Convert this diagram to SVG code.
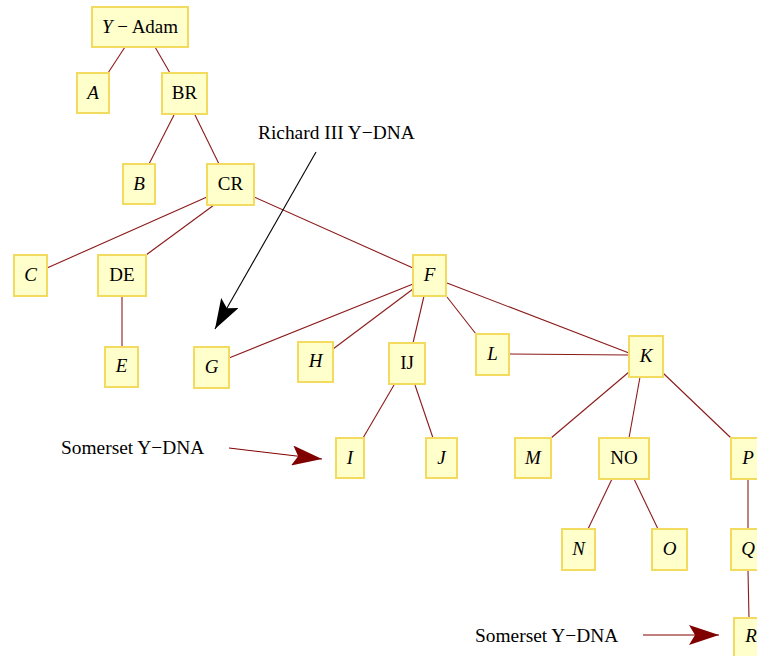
<svg xmlns="http://www.w3.org/2000/svg" width="757" height="656" viewBox="0 0 757 656">
<style>
.n rect{fill:#ffffcc;stroke:#f2db5e;stroke-width:2}
.n text{font-family:"Liberation Serif",serif;font-size:19px;text-anchor:middle;fill:#000}
.i{font-style:italic}
#edges line{stroke:#8b1a1a;stroke-width:1.1}
.lbl{font-family:"Liberation Serif",serif;font-size:19.4px;fill:#000}
</style>
<defs>
<marker id="ab" viewBox="0 0 30 20" refX="30" refY="10" markerWidth="30" markerHeight="20" markerUnits="userSpaceOnUse" orient="auto"><path d="M0,0 L30,10 L0,20 L6,10 Z" fill="#000"/></marker>
<marker id="ar" viewBox="0 0 30 20" refX="30" refY="10" markerWidth="30" markerHeight="20" markerUnits="userSpaceOnUse" orient="auto"><path d="M0,0 L30,10 L0,20 L6,10 Z" fill="#800000"/></marker>
</defs>
<rect width="757" height="656" fill="#fff"/>
<g id="edges">
<line x1="125" y1="47" x2="108" y2="73"/>
<line x1="155" y1="47" x2="170" y2="73"/>
<line x1="174" y1="115" x2="149" y2="164"/>
<line x1="195" y1="115" x2="219" y2="164"/>
<line x1="207" y1="197" x2="47" y2="268"/>
<line x1="214" y1="205" x2="146" y2="255"/>
<line x1="254" y1="197" x2="413" y2="268"/>
<line x1="122" y1="297" x2="122" y2="347"/>
<line x1="413" y1="284" x2="229" y2="358"/>
<line x1="413" y1="289" x2="333" y2="349"/>
<line x1="424" y1="296" x2="413" y2="343"/>
<line x1="447" y1="297" x2="476" y2="334"/>
<line x1="447" y1="283" x2="629" y2="353"/>
<line x1="394" y1="385" x2="363" y2="438"/>
<line x1="415" y1="385" x2="433" y2="438"/>
<line x1="509" y1="354" x2="629" y2="355"/>
<line x1="629" y1="372" x2="551" y2="438"/>
<line x1="640" y1="377" x2="629" y2="438"/>
<line x1="663" y1="373" x2="731" y2="438"/>
<line x1="612" y1="479" x2="588" y2="529"/>
<line x1="634" y1="479" x2="658" y2="529"/>
<line x1="748" y1="479" x2="748" y2="529"/>
<line x1="748" y1="571" x2="749" y2="618"/>
</g>
<g id="annotations">
<text class="lbl" x="258" y="139">Richard III Y−DNA</text>
<line x1="316" y1="152" x2="215" y2="329" stroke="#000" stroke-width="1.1" marker-end="url(#ab)"/>
<text class="lbl" x="61" y="454">Somerset Y−DNA</text>
<line x1="229" y1="448" x2="322" y2="459" stroke="#800000" stroke-width="1.1" marker-end="url(#ar)"/>
<text class="lbl" x="475" y="642">Somerset Y−DNA</text>
<line x1="643" y1="635" x2="719" y2="635" stroke="#800000" stroke-width="1.1" marker-end="url(#ar)"/>
</g>
<g id="Y-Adam" class="n"><rect x="92" y="7" width="96" height="40"/><text x="140" y="33"><tspan class="i">Y</tspan> − Adam</text></g>
<g id="A" class="n"><rect x="77" y="73" width="32" height="40"/><text class="i" x="93" y="99">A</text></g>
<g id="BR" class="n"><rect x="162" y="73" width="45" height="41"/><text x="184.5" y="99">BR</text></g>
<g id="B" class="n"><rect x="123" y="164" width="32" height="40"/><text class="i" x="139" y="190">B</text></g>
<g id="CR" class="n"><rect x="207" y="164" width="47" height="41"/><text x="230.5" y="190">CR</text></g>
<g id="C" class="n"><rect x="14" y="255" width="33" height="41"/><text class="i" x="30.5" y="281">C</text></g>
<g id="DE" class="n"><rect x="98" y="255" width="48" height="41"/><text x="122" y="281">DE</text></g>
<g id="E" class="n"><rect x="105" y="347" width="33" height="40"/><text class="i" x="121.5" y="372">E</text></g>
<g id="F" class="n"><rect x="413" y="255" width="33" height="41"/><text class="i" x="429.5" y="281">F</text></g>
<g id="G" class="n"><rect x="194" y="347" width="35" height="41"/><text class="i" x="211.5" y="373">G</text></g>
<g id="H" class="n"><rect x="298" y="342" width="35" height="40"/><text class="i" x="315.5" y="367">H</text></g>
<g id="IJ" class="n"><rect x="389" y="343" width="36" height="41"/><text x="407" y="369">IJ</text></g>
<g id="L" class="n"><rect x="476" y="334" width="33" height="41"/><text class="i" x="492.5" y="360">L</text></g>
<g id="K" class="n"><rect x="629" y="336" width="34" height="41"/><text class="i" x="646" y="362">K</text></g>
<g id="I" class="n"><rect x="336" y="438" width="28" height="40"/><text class="i" x="350" y="464">I</text></g>
<g id="J" class="n"><rect x="426" y="438" width="31" height="40"/><text class="i" x="441.5" y="464">J</text></g>
<g id="M" class="n"><rect x="515" y="438" width="36" height="40"/><text class="i" x="533" y="464">M</text></g>
<g id="NO" class="n"><rect x="599" y="438" width="50" height="41"/><text x="624" y="464">NO</text></g>
<g id="P" class="n"><rect x="731" y="438" width="34" height="41"/><text class="i" x="748" y="464">P</text></g>
<g id="N" class="n"><rect x="562" y="529" width="33" height="41"/><text class="i" x="578.5" y="555">N</text></g>
<g id="O" class="n"><rect x="652" y="529" width="35" height="41"/><text class="i" x="669.5" y="555">O</text></g>
<g id="Q" class="n"><rect x="731" y="529" width="34" height="41"/><text class="i" x="748" y="555">Q</text></g>
<g id="R" class="n"><rect x="734" y="618" width="34" height="41"/><text class="i" x="751" y="642">R</text></g>
</svg>
